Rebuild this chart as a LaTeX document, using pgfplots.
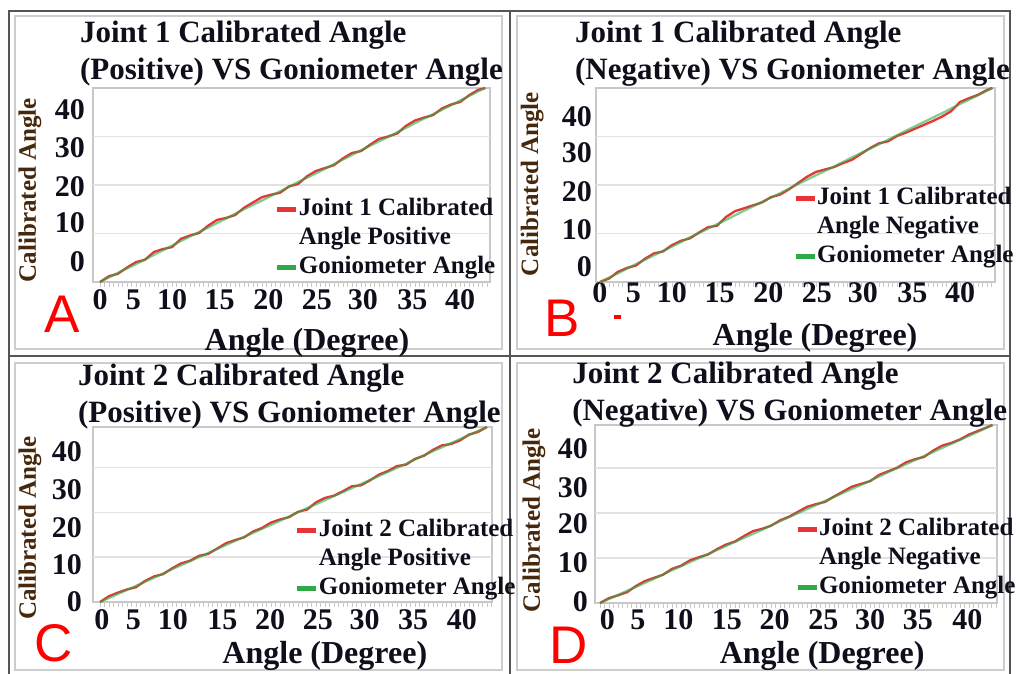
\documentclass[border=0pt]{standalone}
\usepackage{fontspec}
\setmainfont{Liberation Serif}
\setsansfont{Liberation Sans}
\usepackage{pgfplots}
\pgfplotsset{compat=1.18}

\definecolor{lred}{RGB}{232,52,52}
\definecolor{lgreen}{RGB}{46,170,72}
\definecolor{labbrown}{RGB}{70,40,12}
\definecolor{txt}{RGB}{15,15,28}
\definecolor{framedark}{RGB}{85,85,85}
\definecolor{framelight}{RGB}{205,205,205}
\definecolor{gridc}{RGB}{226,226,226}
\definecolor{axisc}{RGB}{200,200,200}

\newcommand\titlefont{\bfseries\fontsize{31}{37}\selectfont}
\newcommand\tickfont{\bfseries\fontsize{30}{30}\selectfont}
\newcommand\ylabfont{\bfseries\fontsize{25}{25}\selectfont}
\newcommand\xlabfont{\bfseries\fontsize{32}{32}\selectfont}
\newcommand\legfont{\bfseries\fontsize{25}{29}\selectfont}

\pgfplotsset{
  panel/.style={
    anchor=south west, scale only axis, clip=false,
    axis line style={draw=axisc, line width=1.2pt},
    xticklabels={0,5,10,15,20,25,30,35,40},
    yticklabels={0,10,20,30,40},
    xtick pos=bottom, ytick pos=left,
    major tick length=0pt,
    minor xtick={0,0.5,...,44},
    minor tick length=5pt, tick align=outside,
    minor tick style={draw=axisc, line width=0.8pt},
    extra y ticks={10,20,30},
    extra y tick labels={},
    extra y tick style={grid=major, major tick length=0pt},
    major grid style={draw=gridc, line width=1.5pt},
    tick label style={font=\tickfont, text=txt, inner sep=0pt},
    xticklabel style={anchor=center},
    yticklabel style={anchor=east},
    /pgf/number format/assume math mode=true,
    title style={anchor=north west, align=left, inner sep=0pt, font=\titlefont, text=txt},
    xlabel={Angle (Degree)},
    ylabel={Calibrated Angle},
    xlabel style={anchor=center, font=\xlabfont, text=txt, inner sep=0pt},
    ylabel style={anchor=center, font=\ylabfont, text=labbrown, inner sep=0pt},
    legend style={anchor=north west, draw=none, fill=none, font=\legfont, text=txt,
      inner sep=0pt, outer sep=0pt, row sep=5pt, column sep=0pt,
      nodes={inner sep=0pt, text height=18pt, text depth=6pt}},
    legend cell align=left,
    legend image code/.code={\draw[#1, line width=5pt] (0pt,0pt) -- (19pt,0pt);},
  },
  redline/.style={draw=lred, line width=2.3pt, mark=none, forget plot},
  greenline/.style={draw=lgreen, line width=2.3pt, opacity=0.6, mark=none, forget plot},
}

\begin{document}
\begin{tikzpicture}[x=1pt,y=1pt]
\useasboundingbox (0,0) rectangle (1016,673);
\fill[white] (0,0) rectangle (1016,673);
% inner light frames
\draw[framelight, line width=1.5pt] (15,324) rectangle (502,657);
\draw[framelight, line width=1.5pt] (517,324) rectangle (1004,657);
\draw[framelight, line width=1.5pt] (15,3) rectangle (502,310);
\draw[framelight, line width=1.5pt] (517,3) rectangle (1004,310);
% outer dark frame lines
\draw[framedark, line width=2.5pt] (9,-5) -- (9,662) -- (1010,662) -- (1010,-5);
\draw[framedark, line width=2.5pt] (510,662) -- (510,-5);
\draw[framedark, line width=2.5pt] (9,317) -- (1010,317);

% ---------------- Panel A ----------------
\begin{axis}[panel,
  at={(93pt,391pt)}, width=397pt, height=194pt,
  xmin=-0.78, xmax=43.33, ymin=0, ymax=40,
  xtick={0,3.7,8,13.3,18.7,24.1,29.2,34.7,40},
  ytick={4.1,12.2,19.6,27.6,35.5},
  xticklabel style={yshift=-18pt}, yticklabel style={xshift=-8pt},
  title={Joint 1 Calibrated Angle\\(Positive) VS Goniometer Angle},
  title style={at={(axis description cs:-0.033,1.315)}},
  ylabel style={at={(axis description cs:-0.159,0.474)}},
  xlabel style={at={(axis description cs:0.539,-0.315)}},
  legend style={at={(axis description cs:0.458,0.438)}},
]
\addplot[redline] coordinates {(0,0) (1,1.2) (2,1.7) (3,3.0) (4,4.1) (5,4.6) (6,6.2) (7,6.8) (8,7.2) (9,8.9) (10,9.6) (11,10.1) (12,11.6) (13,12.8) (14,13.2) (15,13.8) (16,15.3) (17,16.4) (18,17.5) (19,18.0) (20,18.4) (21,19.7) (22,20.2) (23,21.8) (24,22.9) (25,23.5) (26,24.1) (27,25.5) (28,26.6) (29,27.0) (30,28.3) (31,29.5) (32,30.0) (33,30.6) (34,32.2) (35,33.3) (36,33.9) (37,34.4) (38,35.8) (39,36.6) (40,37.1) (41,38.5) (42,39.6) (42.8,40.0)};
\addplot[greenline] coordinates {(0,0) (2,1.9) (4,3.7) (6,5.6) (8,7.5) (10,9.4) (12,11.2) (14,13.1) (16,15.0) (18,16.8) (20,18.7) (22,20.6) (24,22.4) (26,24.3) (28,26.2) (30,28.1) (32,29.9) (34,31.8) (36,33.7) (38,35.5) (40,37.4) (42,39.3) (42.8,40.0)};
\addlegendimage{draw=lred}
\addlegendentry{Joint 1 Calibrated}
\addlegendimage{empty legend}
\addlegendentry{Angle Positive}
\addlegendimage{draw=lgreen}
\addlegendentry{Goniometer Angle}
\end{axis}

% ---------------- Panel B ----------------
\begin{axis}[panel,
  at={(596pt,391pt)}, width=399pt, height=194pt,
  xmin=-0.44, xmax=43.89, ymin=0, ymax=40,
  xtick={0,3.7,8,13.3,18.7,24.1,29.2,34.7,40},
  ytick={3.1,10.7,18.6,26.6,34.0},
  xticklabel style={yshift=-11pt}, yticklabel style={xshift=-4pt},
  title={Joint 1 Calibrated Angle\\(Negative) VS Goniometer Angle},
  title style={at={(axis description cs:-0.053,1.315)}},
  ylabel style={at={(axis description cs:-0.160,0.505)}},
  xlabel style={at={(axis description cs:0.549,-0.289)}},
  legend style={at={(axis description cs:0.494,0.49)}},
]
\addplot[redline] coordinates {(0,0) (1,0.7) (2,2.1) (3,2.9) (4,3.4) (5,4.8) (6,5.9) (7,6.3) (8,7.6) (9,8.5) (10,9.0) (11,10.2) (12,11.3) (13,11.6) (14,13.4) (15,14.6) (16,15.2) (17,15.8) (18,16.4) (19,17.5) (20,18.0) (21,19.1) (22,20.4) (23,21.7) (24,22.7) (25,23.2) (26,23.7) (27,24.5) (28,25.2) (29,26.4) (30,27.6) (31,28.6) (32,29.0) (33,30.1) (34,30.8) (35,31.6) (36,32.4) (37,33.2) (38,34.1) (39,35.2) (40,37.1) (41,37.9) (42,38.6) (43,39.6) (43.6,40.0)};
\addplot[greenline] coordinates {(0,0) (2,1.8) (4,3.7) (6,5.5) (8,7.3) (10,9.2) (12,11.0) (14,12.8) (16,14.7) (18,16.5) (20,18.3) (22,20.2) (24,22.0) (26,23.8) (28,25.7) (30,27.5) (32,29.3) (34,31.2) (36,33.0) (38,34.8) (40,36.7) (42,38.5) (43.6,40.0)};
\addlegendimage{draw=lred}
\addlegendentry{Joint 1 Calibrated}
\addlegendimage{empty legend}
\addlegendentry{Angle Negative}
\addlegendimage{draw=lgreen}
\addlegendentry{Goniometer Angle}
\end{axis}

% ---------------- Panel C ----------------
\begin{axis}[panel,
  at={(93pt,71pt)}, width=399pt, height=175pt,
  xmin=-0.78, xmax=43.56, ymin=0, ymax=39,
  xtick={0.2,3.7,8.1,13.6,18.9,24.2,29.4,34.8,40.2},
  ytick={0,8.3,16.6,25.1,33.6},
  xticklabel style={yshift=-18pt}, yticklabel style={xshift=-11pt},
  title={Joint 2 Calibrated Angle\\(Positive) VS Goniometer Angle},
  title style={at={(axis description cs:-0.038,1.325)}},
  ylabel style={at={(axis description cs:-0.158,0.423)}},
  xlabel style={at={(axis description cs:0.581,-0.308)}},
  legend style={at={(axis description cs:0.506,0.48)}},
]
\addplot[redline] coordinates {(0,0) (1,1.3) (2,2.1) (3,2.8) (4,3.3) (5,4.7) (6,5.7) (7,6.2) (8,7.5) (9,8.6) (10,9.2) (11,10.3) (12,10.7) (13,11.9) (14,13.1) (15,13.8) (16,14.4) (17,15.7) (18,16.5) (19,17.7) (20,18.4) (21,18.9) (22,20.1) (23,20.6) (24,22.2) (25,23.2) (26,23.7) (27,24.7) (28,25.8) (29,26.0) (30,27.1) (31,28.4) (32,29.2) (33,30.3) (34,30.6) (35,31.9) (36,32.6) (37,33.9) (38,34.9) (39,35.2) (40,36.0) (41,37.3) (42,37.9) (43,39.0)};
\addplot[greenline] coordinates {(0,0) (2,1.8) (4,3.6) (6,5.4) (8,7.3) (10,9.1) (12,10.9) (14,12.7) (16,14.5) (18,16.3) (20,18.1) (22,20.0) (24,21.8) (26,23.6) (28,25.4) (30,27.2) (32,29.0) (34,30.8) (36,32.7) (38,34.5) (40,36.3) (42,38.1) (43,39.0)};
\addlegendimage{draw=lred}
\addlegendentry{Joint 2 Calibrated}
\addlegendimage{empty legend}
\addlegendentry{Angle Positive}
\addlegendimage{draw=lgreen}
\addlegendentry{Goniometer Angle}
\end{axis}

% ---------------- Panel D ----------------
\begin{axis}[panel,
  at={(595pt,70pt)}, width=402pt, height=178pt,
  xmin=-0.56, xmax=44.1, ymin=0, ymax=39.6,
  xtick={0.8,4.2,8.7,14.1,19.4,24.8,30,35.3,40.8},
  ytick={0.4,8.9,17.7,25.7,34.4},
  xticklabel style={yshift=-17pt}, yticklabel style={xshift=-7pt},
  title={Joint 2 Calibrated Angle\\(Negative) VS Goniometer Angle},
  title style={at={(axis description cs:-0.057,1.32)}},
  ylabel style={at={(axis description cs:-0.152,0.466)}},
  xlabel style={at={(axis description cs:0.565,-0.298)}},
  legend style={at={(axis description cs:0.4975,0.478)}},
]
\addplot[redline] coordinates {(0,0) (1,1.1) (2,1.7) (3,2.4) (4,3.8) (5,4.9) (6,5.6) (7,6.3) (8,7.6) (9,8.3) (10,9.5) (11,10.2) (12,10.8) (13,12.0) (14,13.0) (15,13.7) (16,14.9) (17,16.0) (18,16.5) (19,17.2) (20,18.4) (21,19.2) (22,20.3) (23,21.4) (24,22.0) (25,22.5) (26,23.7) (27,24.8) (28,25.9) (29,26.5) (30,27.1) (31,28.5) (32,29.3) (33,30.1) (34,31.3) (35,32.0) (36,32.5) (37,33.9) (38,35.0) (39,35.6) (40,36.4) (41,37.5) (42,38.3) (43,39.1) (43.6,39.6)};
\addplot[greenline] coordinates {(0,0) (2,1.8) (4,3.6) (6,5.4) (8,7.3) (10,9.1) (12,10.9) (14,12.7) (16,14.5) (18,16.3) (20,18.2) (22,20.0) (24,21.8) (26,23.6) (28,25.4) (30,27.2) (32,29.1) (34,30.9) (36,32.7) (38,34.5) (40,36.3) (42,38.1) (43.6,39.6)};
\addlegendimage{draw=lred}
\addlegendentry{Joint 2 Calibrated}
\addlegendimage{empty legend}
\addlegendentry{Angle Negative}
\addlegendimage{draw=lgreen}
\addlegendentry{Goniometer Angle}
\end{axis}

% panel letters
\node[text=red, font=\sffamily\fontsize{53}{53}\selectfont, inner sep=0pt] at (62,359) {A};
\node[text=red, font=\sffamily\fontsize{53}{53}\selectfont, inner sep=0pt] at (562,355) {B};
\node[text=red, font=\sffamily\fontsize{53}{53}\selectfont, inner sep=0pt] at (54,30) {C};
\node[text=red, font=\sffamily\fontsize{53}{53}\selectfont, inner sep=0pt] at (569,28) {D};
\fill[red] (614,354) rectangle (621,358);
\end{tikzpicture}
\end{document}
